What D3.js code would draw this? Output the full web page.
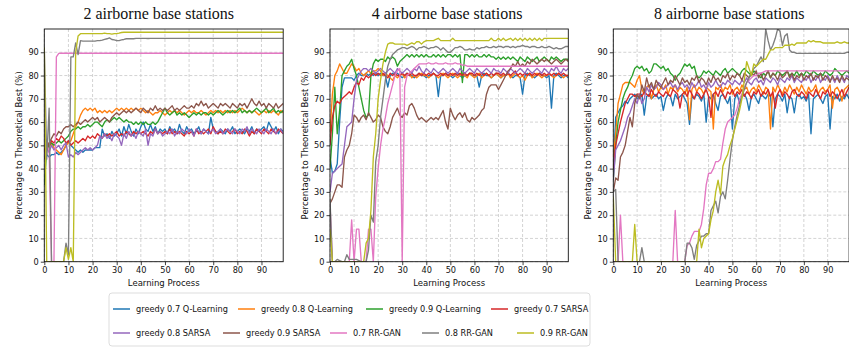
<!DOCTYPE html>
<html>
<head>
<meta charset="utf-8">
<script src="https://cdn.jsdelivr.net/npm/d3@7"></script>
<style>
  body { margin: 0; background: #fff; }
  svg text { fill: #111; }
</style>
</head>
<body>
<svg id="chart" width="849" height="347"></svg>
<script>
// ---- labels ----
const seriesNames = ["greedy 0.7 Q-Learning", "greedy 0.8 Q-Learning", "greedy 0.9 Q-Learning",
  "greedy 0.7 SARSA", "greedy 0.8 SARSA", "greedy 0.9 SARSA", "0.7 RR-GAN", "0.8 RR-GAN", "0.9 RR-GAN"];
const seriesColors = ["#1f77b4", "#ff7f0e", "#2ca02c", "#d62728", "#9467bd", "#8c564b", "#e377c2", "#7f7f7f", "#bcbd22"];
const panelTitles = ["2 airborne base stations", "4 airborne base stations", "8 airborne base stations"];
const xTickValues = [0, 10, 20, 30, 40, 50, 60, 70, 80, 90];
const yTickValues = [0, 10, 20, 30, 40, 50, 60, 70, 80, 90];

// ---- 2 airborne base stations ----
const b2_q07 = [
  47,46,45,46,46,47,46,47,48,50,
  52,50,49,48,47,48,47,48,48,48,
  48,49,49,49,57,54,55,53,56,54,
  55,57,54,58,55,59,56,54,57,55,
  58,60,57,56,59,56,58,55,57,56,
  57,55,58,56,57,55,59,56,55,58,
  56,57,55,56,58,55,57,56,55,62,
  57,56,55,57,56,55,57,56,58,55,
  56,57,56,55,57,56,58,55,57,56,
  57,58,56,60,58,56,58,55,57,56];
const b2_q08 = [
  48,50,49,51,49,48,47,46,48,50,
  51,52,55,58,60,63,65,66,65,66,
  65,66,64,65,64,65,64,65,64,65,
  66,65,66,65,66,65,66,65,66,65,
  66,65,64,65,64,63,64,64,65,64,
  63,64,65,64,65,64,65,64,63,64,
  65,64,65,64,64,65,64,63,64,65,
  64,65,64,65,64,65,64,65,64,65,
  64,65,66,65,64,65,64,65,64,63,
  64,65,64,65,64,65,64,63,65,64];
const b2_q09 = [
  33,48,50,51,50,51,52,51,52,53,
  54,56,57,57,58,57,58,58,59,58,
  59,60,60,59,58,60,61,60,61,62,
  61,62,61,60,61,60,60,59,60,59,
  60,59,60,59,59,60,59,60,62,64,
  66,64,63,64,65,63,64,63,64,63,
  62,63,64,63,64,63,64,64,63,64,
  63,64,65,64,63,64,65,64,65,64,
  65,66,64,65,64,65,64,65,66,65,
  64,65,66,64,65,66,64,65,64,65];
const b2_s07 = [
  47,52,50,52,51,53,52,54,53,51,
  52,50,51,52,51,52,53,52,54,53,
  54,53,55,54,53,55,54,55,54,55,
  56,54,55,54,56,55,54,56,55,56,
  55,56,55,54,56,55,57,55,56,55,
  56,55,57,55,56,55,56,55,54,56,
  55,56,54,57,55,56,55,56,57,55,
  58,56,55,56,55,57,56,55,56,57,
  55,56,55,57,56,54,56,55,57,56,
  55,57,56,55,57,56,55,57,56,55];
const b2_s08 = [
  44,49,47,50,48,49,50,48,50,51,
  45,46,45,47,46,47,48,49,48,49,
  48,49,50,54,53,55,53,54,52,55,
  54,53,50,55,53,56,54,55,53,56,
  55,54,57,50,55,54,57,55,56,54,
  55,56,55,57,54,56,55,57,56,55,
  57,56,54,57,56,55,57,56,55,56,
  57,55,56,57,55,56,57,56,55,57,
  56,55,57,56,58,55,57,56,55,57,
  56,55,57,56,55,57,55,56,57,55];
const b2_s09 = [
  44,48,51,53,55,54,56,55,57,58,
  58,59,58,59,60,59,60,61,60,61,
  62,61,62,60,61,62,61,60,62,63,
  64,63,64,65,64,65,64,65,66,65,
  64,66,65,64,66,65,67,65,66,65,
  66,65,66,67,65,66,65,66,67,66,
  66,67,66,68,67,69,67,68,66,67,
  68,67,66,68,67,68,67,66,68,67,
  66,68,67,68,66,68,70,68,67,69,
  67,68,66,68,67,66,68,66,67,68];
const b2_rr07 = [
  46,50,48,0,0,88,89.5,89.6,89.6,89.6,
  89.6,89.6,89.6,89.6,89.6,89.6,89.6,89.6,89.6,89.6,
  89.6,89.6,89.6,89.6,89.6,89.6,89.6,89.6,89.6,89.6,
  89.6,89.6,89.6,89.6,89.6,89.6,89.6,89.6,89.6,89.6,
  89.6,89.6,89.6,89.6,89.6,89.6,89.6,89.6,89.6,89.6,
  89.6,89.6,89.6,89.6,89.6,89.6,89.6,89.6,89.6,89.6,
  89.6,89.6,89.6,89.6,89.6,89.6,89.6,89.6,89.6,89.6,
  89.6,89.6,89.6,89.6,89.6,89.6,89.6,89.6,89.6,89.6,
  89.6,89.6,89.6,89.6,89.6,89.6,89.6,89.6,89.6,89.6,
  89.6,89.6,89.6,89.6,89.6,89.6,89.6,89.6,89.6,89.6];
const b2_rr08 = [
  92,44,66,0,0,0,0,0,0,8,
  3,88,88,94,89,95,94.8,94.8,94.8,94.8,
  94.8,94.8,95,95,95.2,95.5,95.8,96.2,95.5,95.3,
  95,95,95.3,95.5,95.8,95.8,95.8,95.8,96,96,
  96,96,96,95.9,96,96,96,96,96,96,
  96,96,96,96,96,96,96,96,96,96,
  96,96,96,96,96,96,96,96,96,96,
  96,96,96,96,96,96,96,96,96,96,
  96,96,96,96,96,96,96,96,96,96,
  96,96,96,96,96,96,96,96,96,96];
const b2_rr09 = [
  92,0,0,0,0,0,0,0,0,6,
  1,6,0,90,97,98,98,98,98,98,
  98,98,98,98,98,98.2,98,98,97.8,98,
  98,98.2,98.5,98.6,98.6,98.6,98.6,98.6,98.6,98.6,
  98.6,98.6,98.6,98.6,98.6,98.6,98.6,98.6,98.6,98.6,
  98.6,98.6,98.6,98.6,98.6,98.6,98.6,98.6,98.6,98.6,
  98.6,98.6,98.6,98.6,98.6,98.6,98.6,98.6,98.6,98.6,
  98.6,98.6,98.6,98.6,98.6,98.6,98.6,98.6,98.6,98.6,
  98.6,98.6,98.6,98.6,98.6,98.6,98.6,98.6,98.6,98.6,
  98.6,98.6,98.6,98.6,98.6,98.6,98.6,98.6,98.6,98.6];

// ---- 4 airborne base stations ----
const b4_q07 = [
  45,38,39,42,60,75,79,79,79,79,
  78,80,81,80,80,81,80,81,80,81,
  80,81,80,80,75,80,81,80,81,80,
  79,80,81,80,80,79,80,81,80,80,
  79,80,80,81,80,71,80,80,81,80,
  80,79,80,81,80,79,80,80,81,80,
  80,80,75,80,81,80,80,79,80,81,
  80,79,80,80,81,80,79,80,80,79,
  72,80,81,80,80,79,80,81,80,80,
  79,80,66,80,81,80,79,80,80,79];
const b4_q08 = [
  55,72,80,82,85,83,81,81,83,85,
  84,82,83,81,80,81,82,81,82,82,
  83,82,80,81,80,79,78,80,79,80,
  81,79,80,81,79,80,79,80,81,80,
  80,79,80,81,80,79,80,81,80,79,
  80,81,80,79,80,81,80,79,81,80,
  79,80,81,79,80,81,80,79,80,81,
  80,79,80,80,81,79,80,81,80,79,
  80,78,80,81,79,80,81,80,79,80,
  80,81,80,79,80,81,80,79,80,80];
const b4_q09 = [
  40,55,75,55,65,80,82,84,85,87,
  83,80,75,70,65,62,63,80,85,87,
  86,87,87,86,88,87,88,87,84,86,
  87,88,89,88,89,88,89,88,89,88,
  89,88,88,89,88,89,88,89,88,89,
  89,88,89,88,89,77,89,89,88,89,
  88,89,88,88,89,88,89,88,88,87,
  88,87,88,87,88,87,88,87,86,88,
  87,86,88,87,86,87,88,86,87,88,
  87,86,88,87,88,87,86,87,87,87];
const b4_s07 = [
  50,62,67,69,68,70,71,72,73,72,
  75,77,76,79,78,80,79,80,81,80,
  81,80,81,80,79,81,80,81,80,80,
  81,80,81,80,81,80,80,81,80,81,
  80,81,80,81,80,80,81,80,81,80,
  81,80,81,80,81,80,81,80,81,81,
  80,81,80,81,80,81,80,81,80,81,
  81,80,81,80,81,80,81,82,80,81,
  80,81,80,81,80,81,80,81,80,81,
  80,81,80,81,80,81,80,81,80,80];
const b4_s08 = [
  30,38,39,40,41,42,50,58,59,60,
  70,78,80,82,83,83,82,83,82,81,
  82,83,82,81,82,83,82,81,83,82,
  81,82,83,82,81,83,82,84,82,81,
  83,82,81,83,82,81,82,83,82,81,
  82,83,82,81,83,82,81,82,83,82,
  81,83,82,81,82,83,82,81,83,82,
  82,81,83,82,81,83,82,81,82,83,
  82,81,83,82,81,82,83,82,81,83,
  82,81,83,82,84,82,81,83,82,83];
const b4_s09 = [
  25,27,30,33,33,32,45,48,50,55,
  63,62,60,62,63,61,64,62,60,61,
  63,62,58,56,55,58,62,64,66,63,
  62,64,63,67,68,66,63,61,62,61,
  60,61,62,61,62,61,63,65,60,57,
  66,63,61,63,64,62,64,61,60,62,
  61,62,63,65,66,72,75,76,76,76,
  74,76,78,80,82,83,85,84,86,84,
  85,84,86,85,87,86,85,86,87,86,
  87,86,85,86,87,86,85,86,87,86];
const b4_rr07 = [
  25,0,0,0,0,0,0,0,0,18,
  0,14,14,0,0,0,14,14,0,28,
  40,50,57,62,68,72,76,80,82,83,
  0,75,80,81,82,83,84,85,85,85,
  85,85.5,85,85,85.5,85,85,85,85.5,85,
  85,85,85.5,85,85,84.5,84.5,84,84,84,
  84,84,84,84,84,84,84,84,84,84,
  84,84,84,84,84,84,84,84,84,84,
  84,84,84,84,84,84,84,84,84,84,
  84,84,84,84,84,84,84,84,84,84];
const b4_rr08 = [
  27,0,0,1,0.5,0,0,3,1,1,
  1,1,0.5,0,0,0,5,20,17,43,
  50,62,70,78,84,87,89,90,91,91.5,
  92,92,91.5,92,92.5,92,91,92,92,92.5,
  92,91.5,92,92,92.5,92,91,92,91,90,
  90,91,92,92,92.5,92,91,91,91.5,91,
  91,92,91.5,92,92,92.5,92,92,92.5,92,
  92.5,92.5,92,92.5,92.5,92,92.5,92,92.5,92.5,
  93,92.5,92.5,92,92.5,92.5,92,92,92.5,92,
  92,92.5,92,91.5,92,91.5,91.5,92,92.5,92.5];
const b4_rr09 = [
  14,0,0,0,0,0,0,0,0,0,
  0,0,0,0,0,8,10,22,45,55,
  70,78,85,90,93.5,94,94,93.5,93.5,93.5,
  93.5,93.5,93,93.5,94,93.5,94.5,94.5,93.5,94.5,
  95,95,95,95,95.5,96,95,95,95,95,
  95,96,95,95,95,95,95,95,95,95,
  95,95,95,95,95,95,95,96,95,95,
  96,95,96,95,95.5,96,95,96,95,96,
  95,96,95,96,95,96,95,96,95,96,
  96,96,96,96,96,96,96,96,96,96];

// ---- 8 airborne base stations ----
const b8_q07 = [
  40,62,64,66,67,69,68,70,71,72,
  70,71,72,63,71,72,70,71,72,70,
  71,65,70,72,71,67,72,70,71,72,
  70,68,59,71,70,72,71,69,72,60,
  71,70,72,68,65,71,72,70,68,71,
  57,70,72,68,71,72,70,65,71,72,
  70,68,72,71,70,72,71,58,70,72,
  71,69,72,64,71,70,64,71,72,70,
  71,69,72,55,70,71,72,70,68,71,
  72,57,71,70,72,69,71,70,72,70];
const b8_q08 = [
  45,55,68,72,76,77,77,77,76,75,
  78,80,74,72,75,76,70,74,76,73,
  75,74,76,72,75,74,76,73,75,74,
  72,75,61,74,76,73,75,74,72,75,
  74,73,57,75,74,76,73,75,74,76,
  72,74,75,73,76,74,75,72,74,75,
  73,76,74,72,75,74,57,75,73,76,
  74,72,75,73,76,74,72,75,73,76,
  74,72,75,73,74,76,72,74,75,73,
  74,76,66,74,75,73,69,74,75,76];
const b8_q09 = [
  35,50,60,65,70,73,75,78,80,83,
  84,83,84,82,83,81,82,85,85,84,
  83,84,82,83,81,80,78,80,81,83,
  85,84,85,83,84,80,79,80,82,81,
  82,81,80,82,81,80,82,83,81,82,
  83,82,81,80,82,83,82,81,80,82,
  81,80,79,81,80,82,79,81,80,82,
  81,80,81,82,80,81,80,82,80,81,
  80,82,81,80,82,81,80,81,80,82,
  81,80,81,83,82,81,80,81,82,81];
const b8_s07 = [
  40,50,55,60,64,68,70,72,72,71,
  72,72,71,73,72,71,74,72,71,73,
  72,71,73,72,71,74,73,72,66,72,
  73,71,74,72,70,73,72,70,72,74,
  71,62,72,73,71,74,72,70,73,72,
  74,71,73,72,74,71,73,72,70,73,
  72,74,71,73,72,74,71,73,66,72,
  74,71,73,72,70,73,74,72,71,73,
  72,70,73,72,71,74,72,70,73,72,
  74,71,73,72,70,72,74,71,73,75];
const b8_s08 = [
  35,48,50,52,55,58,62,64,67,70,
  68,72,68,70,75,73,76,74,75,77,
  76,74,75,76,77,75,76,74,76,77,
  75,76,74,77,75,76,78,75,76,74,
  77,75,76,78,76,75,77,76,78,77,
  76,78,77,76,78,77,79,77,76,78,
  79,77,78,76,79,78,77,79,78,76,
  79,78,77,79,78,80,77,79,78,77,
  79,78,80,77,79,78,80,77,79,78,
  80,78,79,77,80,78,79,77,80,79];
const b8_s09 = [
  30,36,35,45,47,50,56,62,58,68,
  72,70,76,73,79,75,77,74,78,76,
  75,77,79,76,78,77,80,78,76,79,
  77,78,76,79,78,80,77,79,78,76,
  79,77,80,78,79,77,80,79,81,78,
  80,79,81,80,78,81,80,79,81,80,
  82,79,81,78,80,82,79,81,80,78,
  81,79,80,82,79,81,78,80,79,81,
  78,80,79,81,78,80,79,81,78,80,
  79,77,80,78,79,77,80,78,79,78];
const b8_rr07 = [
  0,0,0,20,0,0,0,0,0,0,
  0,0,0,0,0,0,0,0,0,0,
  0,0,0,0,0,0,22,0,0,0,
  0,7,8,11,13,13,13,16,23,33,
  38,38,40,43,43,44,51,57,60,61,
  62,63,66,70,72,75,77,78,79,80,
  80,81,81,81.5,82,82,82,82,82,82,
  82,82,82,82,82,82,82,82,82,82,
  82,82,82,82,82,82,82,82,82,82,
  82,82,82,82,82,82,82,82,82,82];
const b8_rr08 = [
  30,31,0,0,0,0,0,0,0,0,
  0,0,6,0,0,0,0,0,0,0,
  0,0,0,0,0,0,0,0,0,0,
  0,8,8,6,1,7,9,11,11,12,
  12,22,24,26,21,28,30,27,35,44,
  52,58,63,67,71,74,77,79,81,83,
  84,86,88,86,100,95,91,93,96,100,
  99,93,97,98,91,90,90,89.5,89.5,89.5,
  89.5,89.5,89.5,89.5,89.5,89.5,89.5,89.5,89.5,89.5,
  89.5,89.5,89.5,89.5,89.5,89.5,89.5,89.5,90,90];
const b8_rr09 = [
  28,0,0,0,0,0,0,0,0,16,
  0,0,0,0,0,0,0,0,0,0,
  0,0,0,0,0,0,0,0,0,0,
  0,0,0,0,0,0,14,6,10,11,
  12,18,22,30,35,29,41,44,46,50,
  53,57,61,65,70,78,86,83,80,85,
  84,85,86,87,87,89,91,91,92,92,
  92,92,93,93,93,93.5,93,94,94,94,
  94,94,95,94.5,95,94.5,94.5,94.5,94,94,
  94,94,94,94,94.5,94,94,94.5,94,94];

const panelSeries = [
  [b2_q07, b2_q08, b2_q09, b2_s07, b2_s08, b2_s09, b2_rr07, b2_rr08, b2_rr09],
  [b4_q07, b4_q08, b4_q09, b4_s07, b4_s08, b4_s09, b4_rr07, b4_rr08, b4_rr09],
  [b8_q07, b8_q08, b8_q09, b8_s07, b8_s08, b8_s09, b8_rr07, b8_rr08, b8_rr09]
];

// ---- layout ----
const plotTop = 29, plotBottom = 261.7;
const plotX = [[44.3, 283.2], [330, 568.3], [613.3, 849.1]];
const titleShift = [-5, -2, -2];
const sansFont = "'DejaVu Sans', sans-serif";

const svg = d3.select('#chart');

panelSeries.forEach((series, k) => {
  const x = d3.scaleLinear().domain([0, 99]).range(plotX[k]);
  const y = d3.scaleLinear().domain([0, 100]).range([plotBottom, plotTop]);
  const g = svg.append('g');
  const left = plotX[k][0], right = plotX[k][1];

  g.append('clipPath').attr('id', 'clip' + k)
    .append('rect')
    .attr('x', left).attr('y', plotTop)
    .attr('width', right - left).attr('height', plotBottom - plotTop);

  // dashed grid
  g.selectAll('.vgrid').data(xTickValues).enter().append('line')
    .attr('x1', d => x(d)).attr('x2', d => x(d))
    .attr('y1', plotTop).attr('y2', plotBottom)
    .attr('stroke', '#c8c8c8').attr('stroke-width', 0.8).attr('stroke-dasharray', '3,2');
  g.selectAll('.hgrid').data(yTickValues).enter().append('line')
    .attr('x1', left).attr('x2', right)
    .attr('y1', d => y(d)).attr('y2', d => y(d))
    .attr('stroke', '#c8c8c8').attr('stroke-width', 0.8).attr('stroke-dasharray', '3,2');

  const line = d3.line().x((d, i) => x(i)).y(d => y(d));
  g.append('g').attr('clip-path', 'url(#clip' + k + ')')
    .selectAll('path').data(series).enter().append('path')
    .attr('d', line)
    .attr('fill', 'none')
    .attr('stroke', (d, i) => seriesColors[i])
    .attr('stroke-width', 1.35)
    .attr('stroke-linejoin', 'round');

  // frame
  g.append('rect')
    .attr('x', left).attr('y', plotTop)
    .attr('width', right - left).attr('height', plotBottom - plotTop)
    .attr('fill', 'none').attr('stroke', '#111').attr('stroke-width', 0.9);

  // axes
  const xAxis = g.append('g').attr('transform', `translate(0,${plotBottom})`)
    .call(d3.axisBottom(x).tickValues(xTickValues).tickSize(3.5).tickPadding(2));
  const yAxis = g.append('g').attr('transform', `translate(${left},0)`)
    .call(d3.axisLeft(y).tickValues(yTickValues).tickSize(3.5).tickPadding(2));
  [xAxis, yAxis].forEach(a => {
    a.select('.domain').remove();
    a.selectAll('line').attr('stroke', '#111').attr('stroke-width', 0.8);
    a.selectAll('text').attr('font-family', sansFont).attr('font-size', 8.2).attr('fill', '#111');
  });

  const cx = (left + right) / 2;
  g.append('text')
    .attr('x', cx).attr('y', 286)
    .attr('text-anchor', 'middle')
    .attr('font-family', sansFont).attr('font-size', 8.5)
    .text('Learning Process');
  g.append('text')
    .attr('transform', `translate(${left - 22},${(plotTop + plotBottom) / 2}) rotate(-90)`)
    .attr('text-anchor', 'middle')
    .attr('font-family', sansFont).attr('font-size', 8.5)
    .text('Percentage to Theoretical Best (%)');
  g.append('text')
    .attr('x', cx + titleShift[k]).attr('y', 19)
    .attr('text-anchor', 'middle')
    .attr('font-family', "'Liberation Serif', 'Times New Roman', serif").attr('font-size', 16)
    .text(panelTitles[k]);
});

// ---- legend ----
const legendSlots = [
  [113, 309], [238, 309], [366, 309], [491, 309],
  [113, 333], [223, 333], [330, 333], [422, 333], [517, 333]
];
const legend = svg.append('g');
legend.append('rect')
  .attr('x', 109).attr('y', 293).attr('width', 481).attr('height', 53)
  .attr('rx', 3).attr('fill', '#fff').attr('stroke', '#d4d4d4').attr('stroke-width', 0.8);
const items = legend.selectAll('.item').data(seriesNames).enter().append('g')
  .attr('transform', (d, i) => `translate(${legendSlots[i][0]},${legendSlots[i][1]})`);
items.append('line')
  .attr('x1', 0).attr('x2', 17).attr('y1', 0).attr('y2', 0)
  .attr('stroke', (d, i) => seriesColors[i]).attr('stroke-width', 1.5);
items.append('text')
  .attr('x', 23).attr('y', 3)
  .attr('font-family', sansFont).attr('font-size', 8.2)
  .text(d => d);
</script>
</body>
</html>
